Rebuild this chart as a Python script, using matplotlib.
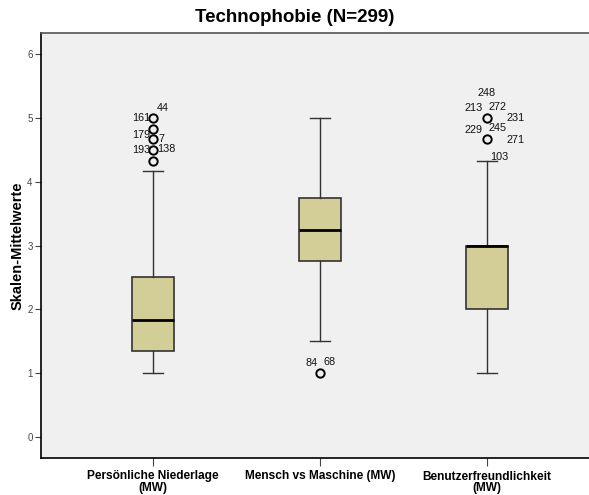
import matplotlib
matplotlib.use("Agg")
import matplotlib.pyplot as plt

plt.rcParams['font.family'] = ['Liberation Sans', 'DejaVu Sans']

# Data
categories = ["Persönliche Niederlage\n(MW)", "Mensch vs Maschine (MW)", "Benutzerfreundlichkeit\n(MW)"]
medians = [1.84, 3.25, 3.0]
q1 = [1.34, 2.75, 2.0]
q3 = [2.50, 3.75, 3.0]
whisker_low = [1.0, 1.5, 1.0]
whisker_high = [4.17, 5.0, 4.33]
fliers = [[4.33, 4.5, 4.67, 4.83, 5.0], [1.0], [4.67, 5.0]]

# outlier labels: (group index, value, label)
outlier_labels = [
    (0, 5.0, "44"), (0, 5.0, "161"), (0, 4.83, "179"), (0, 4.83, "7"),
    (0, 4.5, "193"), (0, 4.5, "138"),
    (1, 1.0, "84"), (1, 1.0, "68"),
    (2, 5.0, "248"), (2, 5.0, "213"), (2, 5.0, "272"), (2, 5.0, "231"),
    (2, 4.67, "229"), (2, 4.67, "245"), (2, 4.67, "271"), (2, 4.33, "103"),
]
# label offsets in pixels (dx, dy, ha)
label_offsets = [
    (10, 10, 'center'), (-3, 0, 'right'), (-3, -6, 'right'), (8, -10, 'center'),
    (-3, 0, 'right'), (13, 1, 'center'),
    (-8, 10, 'center'), (10, 11, 'center'),
    (0, 25, 'center'), (-4, 10, 'right'), (11, 11, 'center'), (29, 0, 'center'),
    (-4, 9, 'right'), (11, 11, 'center'), (29, -1, 'center'), (12, 4, 'center'),
]

fig = plt.figure(figsize=(5.89, 4.95), dpi=100)
ax = fig.add_axes([41/589, 37/495, 1 - 41/589, (458-33)/495])
ax.set_facecolor('#F0F0F0')

stats = []
for i in range(3):
    stats.append(dict(med=medians[i], q1=q1[i], q3=q3[i], whislo=whisker_low[i],
                      whishi=whisker_high[i], fliers=fliers[i], label=categories[i]))

pos = [1, 2, 3]
ax.bxp(stats, positions=pos, widths=0.25, capwidths=0.125, patch_artist=True,
       boxprops=dict(facecolor='#D3CE98', edgecolor='#333333', linewidth=1.2),
       medianprops=dict(color='black', linewidth=2),
       whiskerprops=dict(color='#333333', linewidth=1),
       capprops=dict(color='#333333', linewidth=1),
       flierprops=dict(marker='o', markerfacecolor='none', markeredgecolor='black',
                       markersize=6, markeredgewidth=1.4))

for (g, v, lab), (dx, dy, ha) in zip(outlier_labels, label_offsets):
    ax.annotate(lab, xy=(pos[g], v), xytext=(dx, dy), textcoords='offset pixels',
                ha=ha, va='center', fontsize=7.8, color='#111111')

ax.set_xlim(0.329, 3.611)
ax.set_ylim(-0.33, 6.33)
ax.set_yticks([0, 1, 2, 3, 4, 5, 6])
ax.set_yticklabels(['0', '1', '2', '3', '4', '5', '6'], fontsize=7, color='#444444')
ax.set_xticks(pos)
ax.set_xticklabels(categories, fontsize=8.6, fontweight='bold', linespacing=0.95)
ax.tick_params(axis='y', length=4, width=0.8, color='#444444', pad=2)
ax.tick_params(axis='x', length=6, width=0.8, color='#444444', pad=3)

for s in ['left', 'bottom']:
    ax.spines[s].set_color('black')
    ax.spines[s].set_linewidth(1.2)
ax.spines['top'].set_color('#555555')
ax.spines['top'].set_linewidth(1.2)
ax.spines['right'].set_visible(False)

ax.set_ylabel('Skalen-Mittelwerte', fontsize=10.5, fontweight='bold', labelpad=2)
fig.text(0.5, 1 - 18/495, 'Technophobie (N=299)', ha='center', va='center',
         fontsize=13.5, fontweight='bold')

fig.savefig('out.png', dpi=100)
